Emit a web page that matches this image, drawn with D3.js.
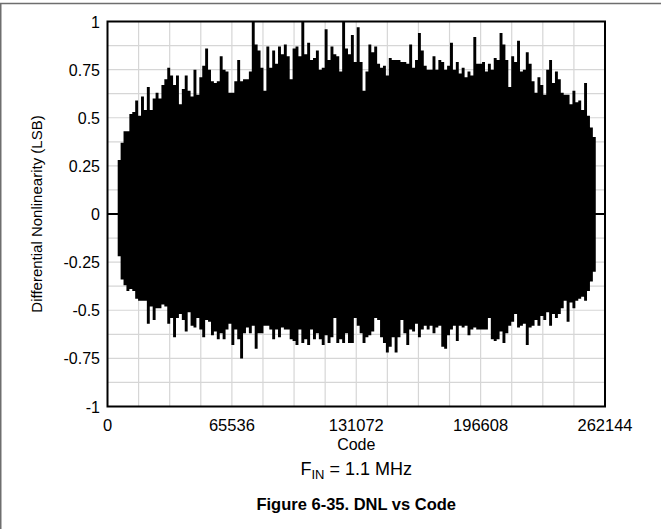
<!DOCTYPE html>
<html><head><meta charset="utf-8">
<script src="https://cdn.jsdelivr.net/npm/d3@7"></script>
<style>body{margin:0;background:#fff}svg{display:block}</style>
</head><body><svg id="c" width="661" height="529"></svg>
<script>
// ---- data (per-bin max / min DNL) ----
const codeStart = 5376;
const codeStep = 1536;
const upper = [0.28,0.37,0.43,0.43,0.52,0.53,0.59,0.51,0.61,0.54,0.66,0.54,0.60,0.63,0.60,0.67,0.70,0.76,0.72,0.67,
0.72,0.57,0.65,0.72,0.64,0.61,0.75,0.62,0.71,0.77,0.86,0.75,0.69,0.68,0.69,0.82,0.75,0.74,0.63,0.63,
0.69,0.80,0.69,0.70,0.70,0.74,1.00,0.88,0.85,0.76,0.64,0.87,0.76,0.85,0.78,0.87,0.83,0.88,0.82,0.70,
0.86,0.87,0.82,1.00,0.83,0.89,0.80,0.81,0.85,0.75,0.76,0.96,0.80,0.87,0.83,0.82,0.74,1.00,0.86,0.83,
0.93,0.79,0.97,0.79,0.64,0.74,0.88,0.84,0.87,0.78,0.76,0.77,0.72,0.81,0.80,0.80,0.80,0.79,0.79,0.78,
0.88,0.76,0.80,0.94,0.85,0.77,0.75,0.75,0.82,0.75,0.80,0.79,0.75,0.77,0.89,0.75,0.79,0.73,0.76,0.71,
0.74,0.72,0.92,0.78,0.78,0.79,0.74,0.78,0.75,0.81,0.80,0.94,0.88,0.80,0.66,0.82,0.79,0.90,0.74,0.75,
0.84,0.78,0.69,0.63,0.71,0.67,0.62,0.75,0.80,0.68,0.74,0.70,0.63,0.62,0.62,0.57,0.64,0.58,0.59,0.54,
0.68,0.51,0.45,0.40];
const lower = [-0.22,-0.34,-0.37,-0.40,-0.39,-0.40,-0.44,-0.45,-0.45,-0.45,-0.57,-0.48,-0.55,-0.49,-0.49,-0.47,-0.48,-0.57,-0.54,-0.64,
-0.54,-0.52,-0.55,-0.61,-0.51,-0.58,-0.59,-0.54,-0.60,-0.64,-0.55,-0.56,-0.63,-0.61,-0.65,-0.62,-0.65,-0.60,-0.57,-0.68,
-0.60,-0.65,-0.75,-0.62,-0.59,-0.62,-0.58,-0.70,-0.62,-0.62,-0.58,-0.58,-0.60,-0.65,-0.60,-0.64,-0.59,-0.60,-0.60,-0.65,
-0.66,-0.68,-0.60,-0.67,-0.65,-0.68,-0.60,-0.65,-0.62,-0.65,-0.68,-0.63,-0.67,-0.64,-0.54,-0.67,-0.65,-0.67,-0.62,-0.67,
-0.67,-0.54,-0.58,-0.62,-0.67,-0.64,-0.63,-0.61,-0.54,-0.55,-0.64,-0.67,-0.72,-0.69,-0.64,-0.72,-0.64,-0.55,-0.62,-0.68,
-0.60,-0.61,-0.57,-0.64,-0.60,-0.58,-0.60,-0.58,-0.62,-0.59,-0.58,-0.69,-0.70,-0.63,-0.60,-0.58,-0.66,-0.58,-0.59,-0.58,
-0.63,-0.60,-0.59,-0.60,-0.60,-0.60,-0.60,-0.54,-0.65,-0.66,-0.65,-0.61,-0.67,-0.62,-0.58,-0.56,-0.52,-0.59,-0.58,-0.57,
-0.68,-0.59,-0.58,-0.55,-0.58,-0.53,-0.55,-0.51,-0.58,-0.52,-0.54,-0.52,-0.49,-0.45,-0.56,-0.46,-0.49,-0.45,-0.44,-0.43,
-0.45,-0.40,-0.35,-0.30];
const xTicks = [0, 65536, 131072, 196608, 262144];
const xTickLabels = ["0", "65536", "131072", "196608", "262144"];
const yTicks = [1, 0.75, 0.5, 0.25, 0, -0.25, -0.5, -0.75, -1];
const yTickLabels = ["1", "0.75", "0.5", "0.25", "0", "-0.25", "-0.5", "-0.75", "-1"];
const xGridStep = 16384;
const yGridStep = 0.125;

// ---- layout ----
const L = 107.5, R = 605, T = 21.5, B = 406.5;
const FONT = "'Liberation Sans', Arial, Helvetica, sans-serif";
const svg = d3.select("#c");
const x = d3.scaleLinear().domain([0, 262144]).range([L, R]);
const y = d3.scaleLinear().domain([-1, 1]).range([B, T]);

// outer frame (top and left)
svg.append("line").attr("x1", 0).attr("x2", 661).attr("y1", 3.5).attr("y2", 3.5)
  .attr("stroke", "#6e6e6e").attr("stroke-width", 1.5);
svg.append("line").attr("x1", 0.75).attr("x2", 0.75).attr("y1", 3).attr("y2", 529)
  .attr("stroke", "#6e6e6e").attr("stroke-width", 1.5);

// grid
const g = svg.append("g");
const xg = d3.range(xGridStep, 262144, xGridStep);
const yg = d3.range(-1 + yGridStep, 1 - 1e-9, yGridStep);
g.selectAll(".gx").data(xg).join("line")
  .attr("x1", d => x(d)).attr("x2", d => x(d)).attr("y1", T).attr("y2", B)
  .attr("stroke", "#d6d6d6").attr("stroke-width", 1.2);
g.selectAll(".gy").data(yg).join("line")
  .attr("x1", L).attr("x2", R).attr("y1", d => y(d)).attr("y2", d => y(d))
  .attr("stroke", "#d6d6d6").attr("stroke-width", 1.2);

// zero line
svg.append("line").attr("x1", L).attr("x2", R).attr("y1", y(0)).attr("y2", y(0))
  .attr("stroke", "#000").attr("stroke-width", 2);

// data
const bins = upper.map((u, i) => ({ code: codeStart + i * codeStep, hi: u, lo: lower[i] }));
bins.push({ code: codeStart + upper.length * codeStep, hi: upper[upper.length - 1], lo: lower[lower.length - 1] });
const area = d3.area().x(d => x(d.code)).y0(d => y(d.lo)).y1(d => y(d.hi)).curve(d3.curveStepAfter);
svg.append("path").datum(bins).attr("d", area).attr("fill", "#000");

// frame
svg.append("rect").attr("x", L).attr("y", T).attr("width", R - L).attr("height", B - T)
  .attr("fill", "none").attr("stroke", "#000").attr("stroke-width", 2);

// y tick labels
svg.selectAll(".yt").data(yTicks).join("text")
  .attr("x", 100).attr("y", d => y(d) + 6)
  .attr("text-anchor", "end").attr("font-family", FONT).attr("font-size", 16)
  .text((d, i) => yTickLabels[i]);
// x tick labels
svg.selectAll(".xt").data(xTicks).join("text")
  .attr("x", d => x(d)).attr("y", 431)
  .attr("text-anchor", "middle").attr("font-family", FONT).attr("font-size", 16.5)
  .text((d, i) => xTickLabels[i]);

// axis titles
svg.append("text").attr("x", (L + R) / 2).attr("y", 450).attr("text-anchor", "middle")
  .attr("font-family", FONT).attr("font-size", 16).text("Code");
svg.append("text").attr("transform", `translate(42,${y(0)}) rotate(-90)`).attr("text-anchor", "middle")
  .attr("font-family", FONT).attr("font-size", 15).text("Differential Nonlinearity (LSB)");

// condition line
const cond = svg.append("text").attr("x", (L + R) / 2).attr("y", 475).attr("text-anchor", "middle")
  .attr("font-family", FONT).attr("font-size", 18);
cond.append("tspan").text("F");
cond.append("tspan").attr("font-size", 13).attr("dy", 4).text("IN");
cond.append("tspan").attr("dy", -4).text(" = 1.1 MHz");

// caption
svg.append("text").attr("x", (L + R) / 2).attr("y", 510).attr("text-anchor", "middle")
  .attr("font-family", FONT).attr("font-size", 16.5).attr("font-weight", "bold")
  .text("Figure 6-35. DNL vs Code");
</script></body></html>
